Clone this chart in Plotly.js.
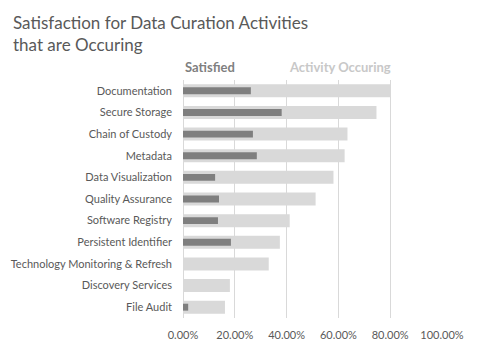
<!DOCTYPE html>
<html>
<head>
<meta charset="utf-8">
<script src="https://cdn.plot.ly/plotly-3.0.1.min.js"></script>
<style>html,body{margin:0;padding:0;background:#fff;}#chart{width:479px;height:351px;}</style>
</head>
<body>
<div id="chart"></div>
<script>
const categories = [
  "Documentation", "Secure Storage", "Chain of Custody", "Metadata",
  "Data Visualization", "Quality Assurance", "Software Registry",
  "Persistent Identifier", "Technology Monitoring & Refresh",
  "Discovery Services", "File Audit"
];
const activityOccuring = [0.80, 0.747, 0.635, 0.624, 0.581, 0.512, 0.412, 0.374, 0.331, 0.181, 0.162];
const satisfied = [0.262, 0.381, 0.270, 0.285, 0.124, 0.139, 0.135, 0.185, 0, 0, 0.020];
const xTickValues = [0, 0.2, 0.4, 0.6, 0.8, 1.0];

const font = "Lato, 'Open Sans', sans-serif";
const traces = [
  {type: "bar", orientation: "h", y: categories, x: activityOccuring, name: "Activity Occuring",
   marker: {color: "#d9d9d9"}, width: 0.6, hoverinfo: "skip"},
  {type: "bar", orientation: "h", y: categories, x: satisfied, name: "Satisfied",
   marker: {color: "#7f7f7f"}, width: 0.32, hoverinfo: "skip"}
];
const plotL = 183, plotT = 80, plotW = 259, plotH = 238;
const layout = {
  width: 479, height: 351,
  margin: {l: plotL, r: 37, t: plotT, b: 33},
  paper_bgcolor: "#fff", plot_bgcolor: "#fff",
  barmode: "overlay",
  showlegend: false,
  font: {family: font, color: "#595959", size: 11},
  xaxis: {
    range: [0, 1], tickvals: xTickValues, tickformat: ".2%",
    showgrid: true, gridcolor: "#d9d9d9", gridwidth: 1,
    zeroline: true, zerolinecolor: "#d9d9d9", zerolinewidth: 1,
    showline: false, ticks: "", fixedrange: true,
    tickfont: {size: 11, color: "#595959"}, ticklabelstandoff: 9
  },
  yaxis: {
    type: "category", autorange: "reversed",
    showgrid: false, zeroline: false, showline: false,
    ticks: "", ticklabelstandoff: 10,
    tickfont: {size: 11, color: "#595959"}
  },
  annotations: [
    {text: "Satisfaction for Data Curation Activities<br>that are Occuring",
     xref: "paper", yref: "paper", x: -(plotL - 11) / plotW, y: 1 + (plotT - 10) / plotH,
     xanchor: "left", yanchor: "top", align: "left", showarrow: false,
     font: {family: font, size: 17, color: "#595959"}},
    {text: "<b>Satisfied</b>", xref: "paper", yref: "paper", x: 0, y: 1, xanchor: "left", yanchor: "bottom",
     yshift: 3, showarrow: false, font: {family: font, size: 13, color: "#7f7f7f"}},
    {text: "<b>Activity Occuring</b>", xref: "paper", yref: "paper", x: 0.4, y: 1, xanchor: "left", yanchor: "bottom",
     yshift: 3, showarrow: false, font: {family: font, size: 13, color: "#c8c8c8"}}
  ]
};
Plotly.newPlot("chart", traces, layout, {displayModeBar: false, staticPlot: true});
</script>
</body>
</html>
